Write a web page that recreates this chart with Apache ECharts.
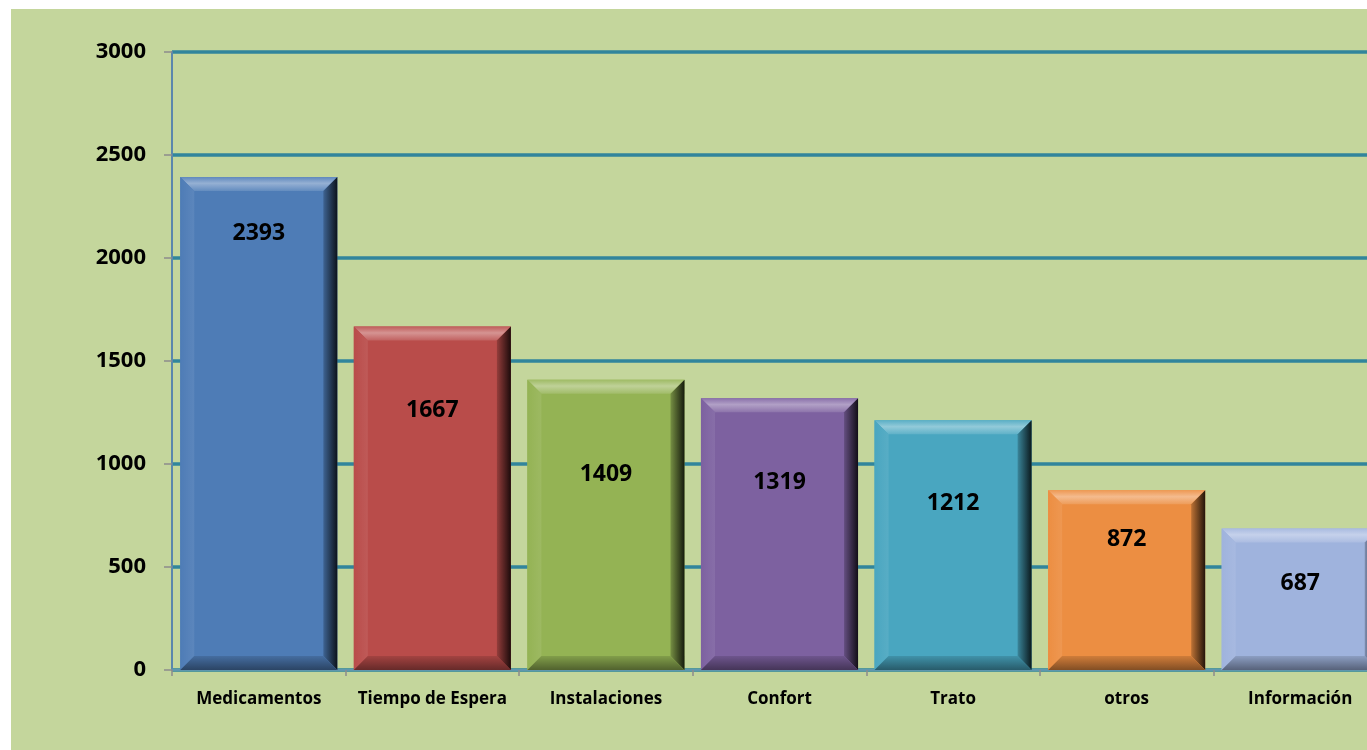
<!DOCTYPE html>
<html>
<head>
<meta charset="utf-8">
<script src="https://cdn.jsdelivr.net/npm/echarts@6/dist/echarts.min.js"></script>
<style>
html,body{margin:0;padding:0;background:#ffffff;width:1367px;height:750px;overflow:hidden;position:relative;}
#chart{position:absolute;left:11px;top:9px;width:1376px;height:741px;background:#c4d69c;}
</style>
</head>
<body>
<div id="chart"></div>
<script>
const categories = ['Medicamentos', 'Tiempo de Espera', 'Instalaciones', 'Confort', 'Trato', 'otros', 'Información'];
const values = [2393, 1667, 1409, 1319, 1212, 872, 687];
const yTicks = { min: 0, max: 3000, interval: 500 };

// styling (not data)
const barColors = ['#4e7cb6', '#b94c4a', '#94b354', '#7d61a0', '#49a6c0', '#ec8e42', '#9fb3dd'];
const labelDrop = [56, 84, 95, 84, 83, 49, 55];
const FONT = '"Open Sans", "Noto Sans", sans-serif';

function shade(hex, f) {
  const n = parseInt(hex.slice(1), 16);
  let r = (n >> 16) & 255, g = (n >> 8) & 255, b = n & 255;
  if (f >= 0) { r += (255 - r) * f; g += (255 - g) * f; b += (255 - b) * f; }
  else { r *= (1 + f); g *= (1 + f); b *= (1 + f); }
  return 'rgb(' + Math.round(r) + ',' + Math.round(g) + ',' + Math.round(b) + ')';
}

const chart = echarts.init(document.getElementById('chart'), null, { renderer: 'canvas' });

function renderItem(params, api) {
  const idx = api.value(0);
  const val = api.value(1);
  const top = api.coord([idx, val]);
  const base = api.coord([idx, 0]);
  const w = api.size([1, 0])[0] * 0.905;
  const x0 = top[0] - w / 2, x1 = top[0] + w / 2;
  const y0 = top[1], y1 = base[1];
  const h = y1 - y0;
  const b = Math.min(14, h / 2);
  const c = barColors[idx];
  const children = [
    { type: 'rect', shape: { x: x0, y: y0, width: w, height: h }, style: { fill: c } },
    { type: 'polygon', shape: { points: [[x0, y0], [x1, y0], [x1 - b, y0 + b], [x0 + b, y0 + b]] },
      style: { fill: new echarts.graphic.LinearGradient(0, 0, 0, 1, [
        { offset: 0, color: shade(c, 0.1) }, { offset: 0.45, color: shade(c, 0.4) }, { offset: 1, color: shade(c, 0.12) }]) } },
    { type: 'polygon', shape: { points: [[x0, y0], [x0 + b, y0 + b], [x0 + b, y1 - b], [x0, y1]] },
      style: { fill: new echarts.graphic.LinearGradient(0, 0, 1, 0, [
        { offset: 0, color: shade(c, 0.0) }, { offset: 1, color: shade(c, 0.08) }]) } },
    { type: 'polygon', shape: { points: [[x1, y0], [x1 - b, y0 + b], [x1 - b, y1 - b], [x1, y1]] },
      style: { fill: new echarts.graphic.LinearGradient(0, 0, 1, 0, [
        { offset: 0, color: shade(c, -0.2) }, { offset: 1, color: shade(c, -0.85) }]) } },
    { type: 'polygon', shape: { points: [[x0, y1], [x0 + b, y1 - b], [x1 - b, y1 - b], [x1, y1]] },
      style: { fill: new echarts.graphic.LinearGradient(0, 0, 0, 1, [
        { offset: 0, color: shade(c, -0.12) }, { offset: 1, color: shade(c, -0.45) }]) } },
    { type: 'text', style: { x: top[0], y: y0 + labelDrop[idx], text: String(val), align: 'center', verticalAlign: 'middle',
      font: 'bold 23px ' + FONT, fill: '#000000' } }
  ];
  return { type: 'group', children: children };
}

chart.setOption({
  animation: false,
  grid: { left: 161, top: 43, bottom: 80, right: 0, containLabel: false },
  xAxis: {
    type: 'category',
    data: categories,
    boundaryGap: true,
    axisLine: { show: true, lineStyle: { color: '#5f97ae', width: 2 } },
    axisTick: { show: true, interval: 0, alignWithLabel: false, length: 6, lineStyle: { color: '#8c8c8c', width: 1.5 } },
    axisLabel: { interval: 0, margin: 21, color: '#000000', fontSize: 17, fontWeight: 'bold', fontFamily: FONT },
    splitLine: { show: false }
  },
  yAxis: {
    type: 'value',
    min: yTicks.min, max: yTicks.max, interval: yTicks.interval,
    axisLine: { show: true, lineStyle: { color: '#5b87ad', width: 2 } },
    axisTick: { show: true, length: 8, lineStyle: { color: '#8c8c8c', width: 1.5 } },
    axisLabel: { margin: 26, color: '#000000', fontSize: 22, fontWeight: 'bold', fontFamily: FONT,
      formatter: v => String(v) },
    splitLine: { show: true, lineStyle: { color: '#31859c', width: 3.5 } }
  },
  series: [{
    type: 'custom',
    renderItem: renderItem,
    encode: { x: 0, y: 1 },
    data: values.map((v, i) => [i, v]),
    clip: false
  }]
});
</script>
</body>
</html>
